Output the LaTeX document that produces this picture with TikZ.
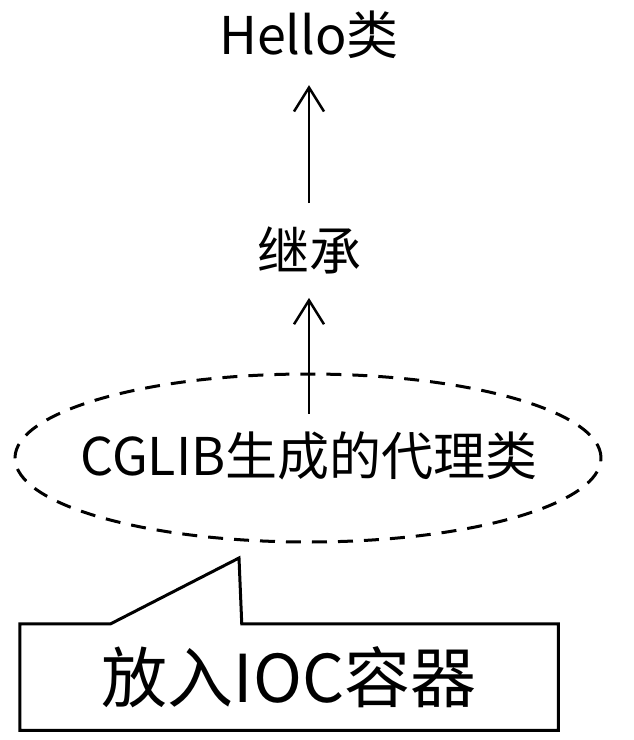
\documentclass[tikz,border=0pt]{standalone}
\usepackage{fontspec}
\newfontfamily\cjk{Noto Sans CJK SC}
\usetikzlibrary{arrows.meta,shapes.geometric}

\begin{document}
\begin{tikzpicture}[x=1pt,y=-1pt,
                    >={Straight Barb[length=24pt,width=30pt]},
                    line width=2.5pt,
                    every node/.style={font=\cjk\fontsize{52}{60}\selectfont,inner sep=0pt}]
\useasboundingbox (0,0) rectangle (634,740);
\node (hello)    at (309,35)  {Hello类};
\node (extends)  at (309,250) {继承};
\node[draw, ellipse, dash pattern=on 15pt off 11pt, line width=3pt,
      minimum width=586pt, minimum height=168pt] (proxy) at (308,458) {};
\node (proxytxt) at (309,456) {CGLIB生成的代理类};
\draw[->, shorten <=22pt, shorten >=25pt] (extends.north) -- (hello.south);
\draw[->, shorten <=17pt, shorten >=23pt] (proxytxt.north) -- (extends.south);
% callout box with its pointer
\node[font=\cjk\fontsize{66}{72}\selectfont,
      minimum width=536pt, minimum height=104pt] (ioc) at (289,677) {放入IOC容器};
\coordinate (tip) at (239,558);
\draw[line width=3pt] (ioc.south west) -- (ioc.north west)
  -- ([xshift=91pt]ioc.north west) -- (tip) -- ([xshift=222pt]ioc.north west)
  -- (ioc.north east) -- (ioc.south east) -- cycle;
\end{tikzpicture}
\end{document}
